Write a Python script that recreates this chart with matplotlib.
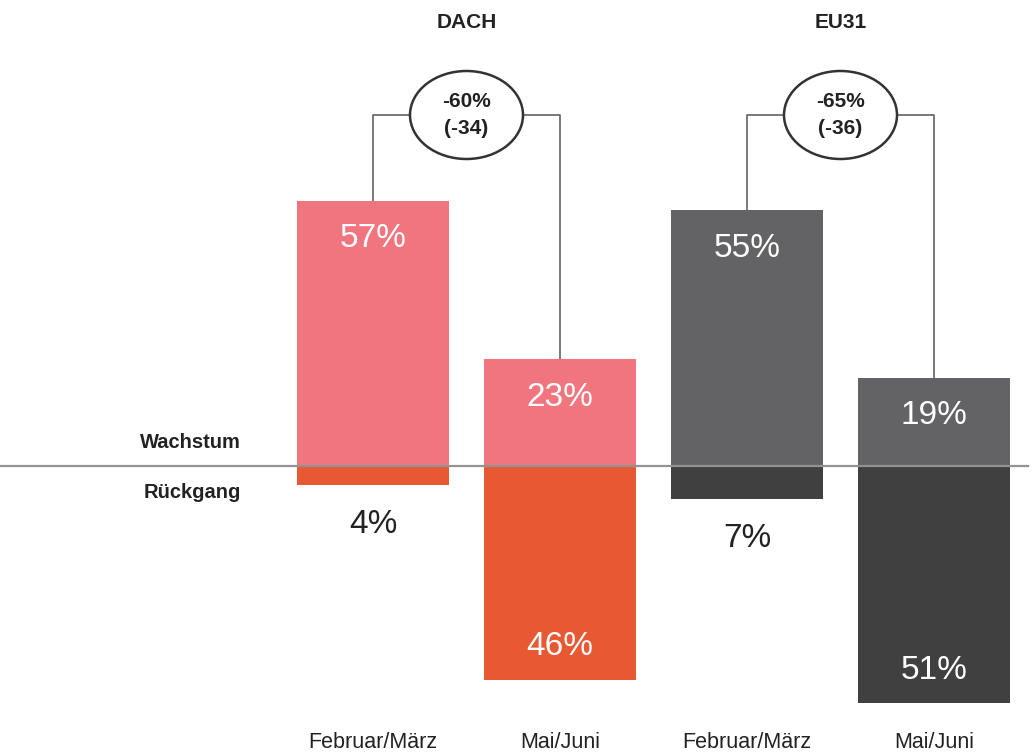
import matplotlib.pyplot as plt
from matplotlib.patches import Ellipse

plt.rcParams["font.family"] = ["Liberation Sans", "DejaVu Sans"]

regions = ["DACH", "EU31"]
periods = ["Februar/März", "Mai/Juni", "Februar/März", "Mai/Juni"]
wachstum = [57, 23, 55, 19]
rueckgang = [4, 46, 7, 51]
change_pct = ["-60%", "-65%"]
change_pts = ["(-34)", "(-36)"]

up_colors = ["#f1757f", "#f1757f", "#636365", "#636365"]
down_colors = ["#e85832", "#e85832", "#404040", "#404040"]

PX_X = 187.0   # pixels per category step
PX_Y = 4.65    # pixels per percentage point
X0, Y0 = 373.0, 466.0  # pixel position of first bar centre / baseline
W, H = 1033, 754


def main():
    fig = plt.figure(figsize=(W / 100, H / 100), dpi=100)
    ax = fig.add_axes([0, 0, 1, 1])
    ax.set_xlim(-X0 / PX_X, (W - X0) / PX_X)
    ax.set_ylim(-(H - Y0) / PX_Y, Y0 / PX_Y)
    ax.axis("off")

    xs = list(range(len(wachstum)))
    bw = 152 / PX_X
    ax.bar(xs, wachstum, width=bw, color=up_colors, zorder=2)
    ax.bar(xs, [-v for v in rueckgang], width=bw, color=down_colors, zorder=2)
    ax.axhline(0, xmin=0, xmax=1028 / W, color="#939393", lw=1.6, zorder=3)

    label_font = dict(fontsize=24, ha="center", va="center")
    for x, up, down in zip(xs, wachstum, rueckgang):
        ax.text(x, up - 38 / PX_Y, f"{up}%", color="white", **label_font)
        if down >= 15:
            ax.text(x, -down + 33 / PX_Y, f"{down}%", color="white", **label_font)
        else:
            ax.text(x, -down - 40 / PX_Y, f"{down}%", color="#222222", **label_font)
        ax.text(x, -(743 - Y0) / PX_Y, periods[x], fontsize=15.5, ha="center",
                va="center", color="#222222")

    # bracket with change badge over each region
    top = (Y0 - 115) / PX_Y
    ew, eh = 113 / PX_X, 88 / PX_Y
    for i, region in enumerate(regions):
        a, b = 2 * i, 2 * i + 1
        mid = (a + b) / 2
        ax.plot([a, a, mid - ew / 2], [wachstum[a], top, top], color="#555555", lw=1.1, zorder=1)
        ax.plot([mid + ew / 2, b, b], [top, top, wachstum[b]], color="#555555", lw=1.1, zorder=1)
        ax.add_patch(Ellipse((mid, top), ew, eh, facecolor="white", edgecolor="#333333",
                             lw=1.8, zorder=4))
        ax.text(mid, top + 2.9, change_pct[i], fontsize=15, weight="bold", ha="center",
                va="center", color="#222222", zorder=5)
        ax.text(mid, top - 2.9, change_pts[i], fontsize=15, weight="bold", ha="center",
                va="center", color="#222222", zorder=5)
        ax.text(mid, (Y0 - 22) / PX_Y, region, fontsize=15, weight="bold", ha="center",
                va="center", color="#222222")

    lx = (241 - X0) / PX_X
    ax.text(lx, (Y0 - 443) / PX_Y, "Wachstum", fontsize=14.5, weight="bold", ha="right",
            va="center", color="#222222")
    ax.text(lx, (Y0 - 492) / PX_Y, "Rückgang", fontsize=14.5, weight="bold", ha="right",
            va="center", color="#222222")

    fig.savefig("out.png", dpi=100)
    plt.close(fig)


if __name__ == "__main__":
    main()
